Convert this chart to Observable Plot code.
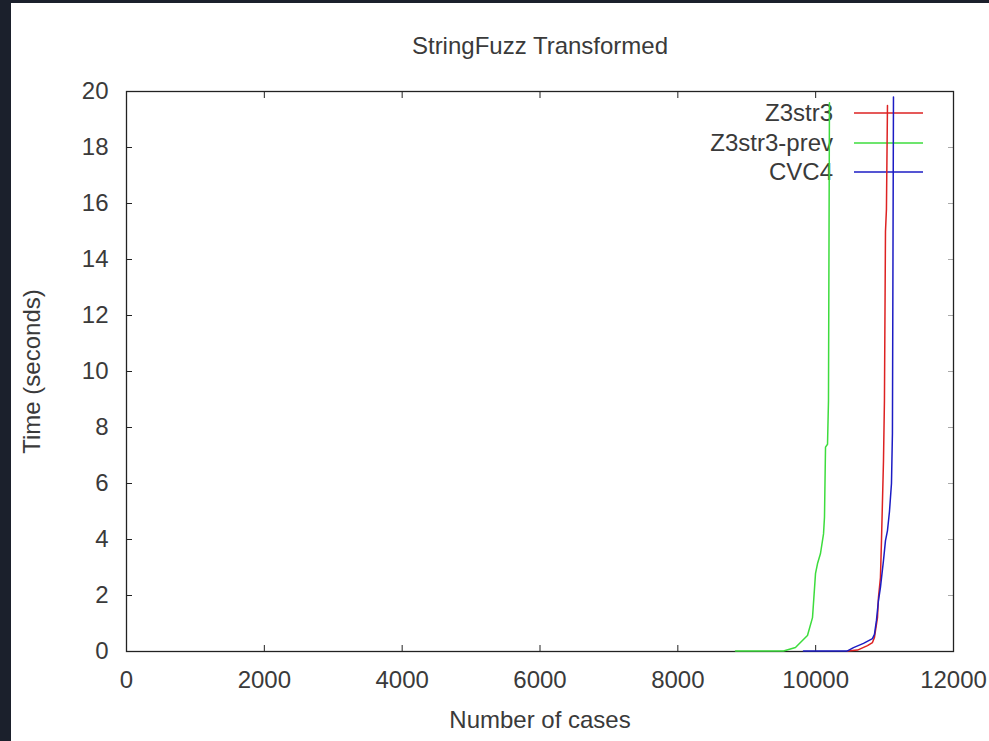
<!DOCTYPE html>
<html>
<head>
<meta charset="utf-8">
<script src="https://cdn.jsdelivr.net/npm/d3@7"></script>
<script src="https://cdn.jsdelivr.net/npm/@observablehq/plot@0.6"></script>
<style>
  html, body { margin: 0; padding: 0; background: #1b202c; width: 989px; height: 741px; overflow: hidden; }
  #panel { position: absolute; left: 11px; top: 3px; width: 978px; height: 738px; background: #ffffff; }
  #panel svg { display: block; }
</style>
</head>
<body>
<div id="panel"></div>
<script>
// ---- data ----
const title = "StringFuzz Transformed";
const xLabel = "Number of cases";
const yLabel = "Time (seconds)";
const xTicks = [0, 2000, 4000, 6000, 8000, 10000, 12000];
const yTicks = [0, 2, 4, 6, 8, 10, 12, 14, 16, 18, 20];
const seriesNames = ["Z3str3", "Z3str3-prev", "CVC4"];
const seriesColors = ["#dd2222", "#3ddc3d", "#1c1cc4"];

const z3str3X = [10462, 10607, 10752, 10824, 10853, 10897, 10911, 10940, 10955, 10984, 10998, 11013, 11027, 11042];
const z3str3Y = [0.02, 0.05, 0.21, 0.32, 0.5, 1.21, 1.93, 2.64, 3.96, 6.8, 8.96, 15.0, 15.8, 19.5];

const prevX = [8837, 9533, 9707, 9881, 9954, 9998, 10027, 10070, 10114, 10128, 10143, 10172, 10186, 10200];
const prevY = [0.02, 0.02, 0.14, 0.57, 1.21, 2.79, 3.14, 3.5, 4.2, 4.8, 7.3, 7.4, 8.96, 19.6];

const cvc4X = [9823, 10462, 10549, 10694, 10824, 10853, 10882, 10911, 10940, 10984, 11013, 11042, 11071, 11100, 11114, 11129];
const cvc4Y = [0.02, 0.02, 0.14, 0.29, 0.46, 0.61, 1.11, 1.82, 2.29, 3.25, 3.96, 4.32, 5.0, 6.0, 7.8, 19.8];

// ---- build table ----
const rows = [];
[[z3str3X, z3str3Y, seriesNames[0]], [prevX, prevY, seriesNames[1]], [cvc4X, cvc4Y, seriesNames[2]]]
  .forEach(([xs, ys, name]) => xs.forEach((x, i) => rows.push({x, y: ys[i], series: name})));

const font = "'Liberation Sans', Arial, sans-serif";
const textColor = "#3a3a3a";
const fs = 24;
const fmt = d3.format("d");

const chart = Plot.plot({
  width: 978,
  height: 738,
  marginLeft: 115,
  marginRight: 36,
  marginTop: 88,
  marginBottom: 90,
  style: {fontFamily: font, fontSize: fs + "px", color: textColor, background: "#ffffff", overflow: "visible"},
  x: {domain: [0, 12000]},
  y: {domain: [0, 20]},
  color: {domain: seriesNames, range: seriesColors},
  marks: [
    Plot.axisX({ticks: xTicks, tickSize: -6, tickPadding: 25, tickFormat: fmt, stroke: "#222", fontSize: fs, fill: textColor, label: null}),
    Plot.axisX({ticks: xTicks, anchor: "top", tickSize: -6, tickFormat: () => "", stroke: "#222", label: null}),
    Plot.axisY({ticks: yTicks, tickSize: -6, tickPadding: 24, tickFormat: fmt, stroke: "#222", fontSize: fs, fill: textColor, label: null}),
    Plot.axisY({ticks: yTicks, anchor: "right", tickSize: -6, tickFormat: () => "", stroke: "#aaa", label: null}),
    Plot.frame({stroke: "#222", strokeWidth: 1.3}),
    Plot.line(rows, {x: "x", y: "y", z: "series", stroke: "series", strokeWidth: 1.5}),
    Plot.text([title], {text: d => d, frameAnchor: "top", dy: -55, fontSize: fs, fill: textColor}),
    Plot.text([xLabel], {text: d => d, frameAnchor: "bottom", dy: 76, fontSize: fs, fill: textColor}),
    Plot.text([yLabel], {text: d => d, frameAnchor: "left", textAnchor: "middle", dx: -94, rotate: -90, fontSize: fs, fill: textColor})
  ]
});

document.getElementById("panel").appendChild(chart);

// ---- legend (gnuplot style, inside top-right) ----
const svg = d3.select(chart);
const xs = chart.scale("x").range;
const ys = chart.scale("y").range;
const frameRight = Math.max(...xs);
const frameTop = Math.min(...ys);
const legendOffsets = [22, 52, 81];
const lg = svg.insert("g", "g[aria-label='line']").attr("aria-label", "legend");
seriesNames.forEach((name, i) => {
  const yy = frameTop + legendOffsets[i];
  lg.append("text")
    .attr("x", frameRight - 120).attr("y", yy)
    .attr("text-anchor", "end").attr("dy", "0.35em")
    .attr("font-family", font).attr("font-size", fs).attr("fill", textColor)
    .text(name);
  lg.append("line")
    .attr("x1", frameRight - 99).attr("x2", frameRight - 30)
    .attr("y1", yy).attr("y2", yy)
    .attr("stroke", seriesColors[i]).attr("stroke-width", 1.5);
});
</script>
</body>
</html>
